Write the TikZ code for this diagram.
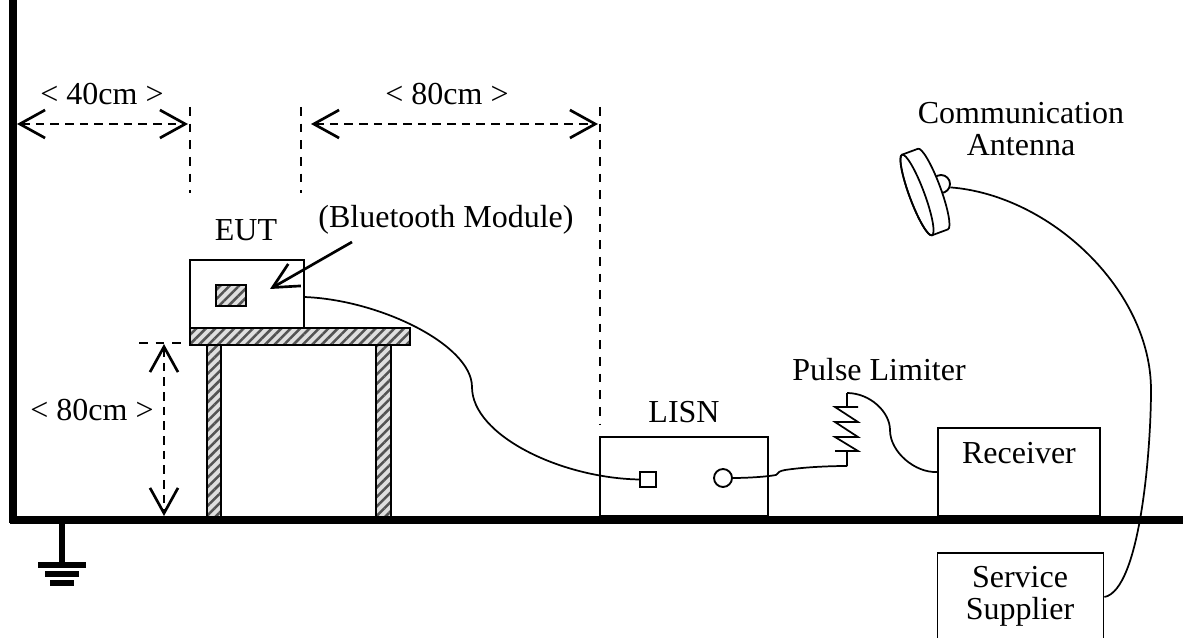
\documentclass[tikz,border=0pt]{standalone}
\usepackage{fontspec}
\setmainfont{Liberation Serif}
\usepackage{tikz}
\usetikzlibrary{arrows.meta,patterns.meta}
\usetikzlibrary{positioning}

\tikzset{
  labeltext/.style={inner sep=0.75pt,font=\fontsize{24}{24}\selectfont,align=center},
  boxed/.style={draw,line width=1.4pt,rectangle,inner sep=0pt},
  hatched/.style={draw,line width=1.4pt,preaction={fill=gray!25},
    pattern={Lines[angle=45,distance=5pt,line width=1.9pt]},pattern color=gray!65!black},
  dimline/.style={line width=2pt,dash pattern=on 6.5pt off 4.5pt,
    {Straight Barb[length=19pt,width=21pt]}-{Straight Barb[length=19pt,width=21pt]}},
  leader/.style={line width=1.4pt,dash pattern=on 6.5pt off 6pt},
  wire/.style={line width=1.3pt},
  heavy/.style={line width=5.5pt}
}

\begin{document}
\begin{tikzpicture}[x=0.75pt,y=0.75pt,yscale=-1,xscale=1]
\useasboundingbox (0,0) rectangle (1183,638);

%Wall and ground
\draw [line width=6pt] (13,0) -- (13,523);
\draw [heavy] (10,520) -- (1183,520);
%Earth symbol
\coordinate (earthtop) at (62,523);
\coordinate (earthbar) at (62,565);
\draw [line width=4.5pt] (earthtop) -- (earthbar);
\draw [line width=4.2pt] (38,565) -- (86,565);
\draw [line width=4.2pt] (45,574) -- (79,574);
\draw [line width=4.2pt] (50,583) -- (74,583);

%Table
\path [hatched] (190,328) rectangle (410,345);
\path [hatched] (207,345) rectangle (221,517);
\path [hatched] (376,345) rectangle (391,517);

%Boxes
\node (eut) at (247,294) [boxed,minimum width=85.5pt,minimum height=51pt] {};
\node (lisn) at (684,476.5) [boxed,minimum width=126pt,minimum height=59.25pt] {};
\node (receiver) at (1019,472) [boxed,minimum width=121.5pt,minimum height=66pt] {};
\node (supplier) at (1020.5,597) [boxed,minimum width=124.5pt,minimum height=66pt] {};
\path [hatched] (216,285) rectangle (246,306);
\node (lisnin) at (648,479.5) [boxed,minimum size=11.5pt] {};
\node (lisnout) at (723,478) [boxed,circle,minimum size=13.5pt] {};

%Antenna
\node (dishstub) at (941,184) [boxed,circle,minimum size=13.5pt] {};
\begin{scope}[shift={(917,195)},rotate=69.6]
\draw [wire,fill=white] (-43,0) -- (-43,-17) arc [start angle=180,end angle=360,x radius=43,y radius=7.5] -- (43,0) arc [start angle=0,end angle=-180,x radius=43,y radius=-7.5] -- cycle;
\draw [wire] (0,0) ellipse [x radius=43,y radius=7.5];
\end{scope}

%Pulse limiter
\coordinate (pulsetop) at (847,393);
\coordinate (pulsebot) at (847,466);
\draw [wire] (pulsetop) -- (847,407) (858,407) -- (835,407) -- (858,422) -- (835,422) -- (858,437) -- (835,437) -- (858,451) -- (835,451) (847,451) -- (pulsebot);

%Cables
\draw [wire] (eut.-3) .. controls (380,300) and (472,345) .. (472,387) .. controls (472,435) and (560,478) .. (lisnin.west);
\draw [wire] (lisnout.east) .. controls (745,478) and (765,477) .. (776,475) .. controls (778,472) and (780,471) .. (785,470) .. controls (805,467) and (830,466) .. (pulsebot);
\draw [wire] (pulsetop) .. controls (870,393) and (890,412) .. (890,430) .. controls (890,452) and (915,473) .. (receiver.west);
\draw [wire] (dishstub.-20) .. controls (1050,195) and (1151,290) .. (1151,390) .. controls (1151,450) and (1140,590) .. (supplier.east);

%Straight Lines
\coordinate (wallmark) at (17,124);
\coordinate (eutmark) at (188,124);
\coordinate (tablemark) at (311,124);
\coordinate (lisnmark) at (598,124);
\coordinate (topmark) at (164,344);
\coordinate (floormark) at (164,516);
\draw [dimline] (wallmark) -- (eutmark);
\draw [dimline] (tablemark) -- (lisnmark);
\draw [dimline] (topmark) -- (floormark);
\draw [leader] (190,107) -- (190,193);
\draw [leader] (301,107) -- (301,193);
\draw [leader] (600,107) -- (600,424);
\draw [leader] (139,343) -- (185,343);

%Arrow to module
\coordinate (modfrom) at (352,242);
\coordinate (modto) at (270,289);
\draw [line width=2pt,-{Straight Barb[length=19pt,width=19pt]}] (modfrom) -- (modto);

% Text Node
\node (lblforty) at (102,94) [labeltext] {< 40cm >};
\node (lbleighty) at (447,94) [labeltext] {< 80cm >};
\node (lblheight) at (92,410) [labeltext] {< 80cm >};
\node (lbleut) at (246,230) [labeltext] {EUT};
\node (lblmodule) at (446,220) [labeltext] {(Bluetooth Module)};
\node (lbllisn) at (684,412) [labeltext] {LISN};
\node (lblpulse) at (879,370) [labeltext] {Pulse Limiter};
\node (lblreceiver) at (1019,453) [labeltext] {Receiver};
\node (lblsupplier) at (1020,596) [labeltext] {Service\\Supplier};
\node (lblantenna) at (1021,129) [labeltext] {Communication\\Antenna};

\end{tikzpicture}
\end{document}
